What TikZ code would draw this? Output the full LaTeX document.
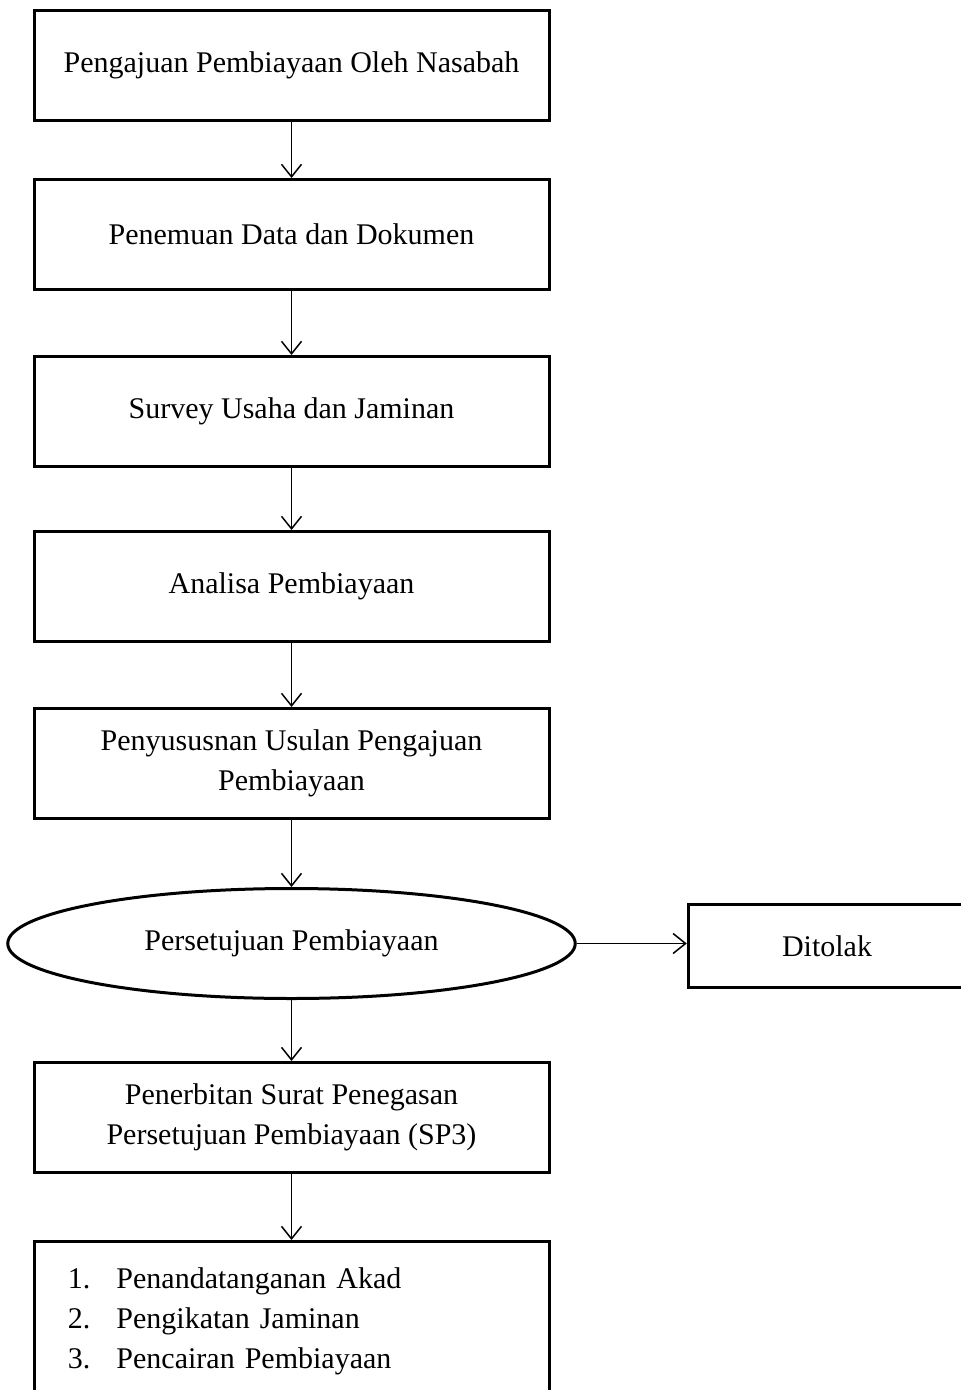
\documentclass[tikz,border=0pt]{standalone}
\usepackage{fontspec}
\setmainfont{Liberation Serif}
\usepackage{tikz}
\usetikzlibrary{positioning,arrows.meta,shapes.geometric}
\tikzset{
  stage/.style={draw, line width=1.2pt, align=center, inner sep=3pt,
                minimum width=206pt, minimum height=44pt,
                font=\fontsize{12}{16}\selectfont},
  decide/.style={ellipse, draw, line width=1.2pt, inner sep=0pt,
                 minimum width=227pt, minimum height=44pt,
                 font=\fontsize{12}{16}\selectfont},
  listn/.style={draw, line width=1.2pt, align=left, inner sep=3pt,
                text width=200pt, minimum height=64pt,
                font=\fontsize{12}{16}\selectfont},
  ar/.style={-{Straight Barb[length=5pt,width=8pt]}, line width=0.6pt},
}
\begin{document}
\begin{tikzpicture}[node distance=26pt]
\useasboundingbox (0,0) rectangle (384pt,-556pt);
\node[stage] (s1) at (116.6pt,-26.2pt) {Pengajuan Pembiayaan Oleh Nasabah};
\node[stage, below=22.4pt of s1] (s2) {Penemuan Data dan Dokumen};
\node[stage, below=25.6pt of s2] (s3) {Survey Usaha dan Jaminan};
\node[stage, below=24.8pt of s3] (s4) {Analisa Pembiayaan};
\node[stage, below=25.6pt of s4] (s5) {Penyususnan Usulan Pengajuan\\Pembiayaan};
\node[decide, below=26.8pt of s5] (ok) {\raisebox{3pt}{Persetujuan Pembiayaan}};
\node[stage, below=24.4pt of ok] (s8) {Penerbitan Surat Penegasan\\Persetujuan Pembiayaan (SP3)};
\node[listn, below=26.4pt of s8] (s9) {%
  \hspace*{10.5pt}1.\hspace{10.5pt}Penandatanganan Akad\\
  \hspace*{10.5pt}2.\hspace{10.5pt}Pengikatan Jaminan\\
  \hspace*{10.5pt}3.\hspace{10.5pt}Pencairan Pembiayaan};
\node[stage, right=44pt of ok, yshift=-1pt, minimum width=111pt,
      minimum height=33pt] (no) {Ditolak};

\foreach \a/\b in {s1/s2, s2/s3, s3/s4, s4/s5, s5/ok, ok/s8, s8/s9}
  \draw[ar] (\a) -- (\b);
\draw[ar] (ok) -- (ok -| no.west);
\end{tikzpicture}
\end{document}
